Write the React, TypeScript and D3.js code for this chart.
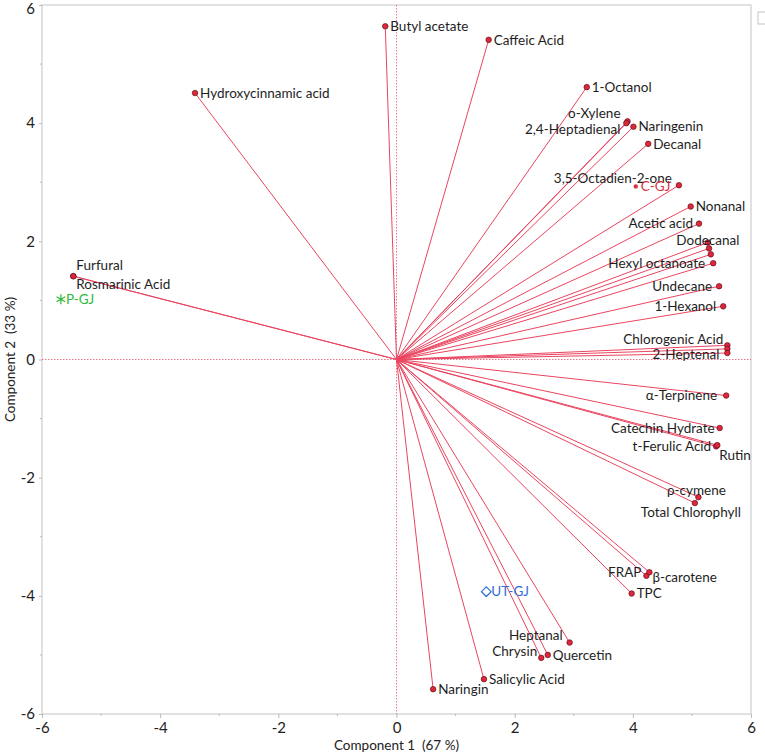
import * as React from 'react';
import * as d3 from 'd3';

// variable loadings (Component 1, Component 2)
const loadingNames = [
  'Butyl acetate', 'Caffeic Acid', 'Hydroxycinnamic acid', '1-Octanol', 'o-Xylene',
  '2,4-Heptadienal', 'Naringenin', 'Decanal', '3,5-Octadien-2-one', 'Nonanal',
  'Acetic acid', 'Dodecanal', '', '', 'Hexyl octanoate', 'Undecane', '1-Hexanol',
  'Chlorogenic Acid', '', '2-Heptenal', 'α-Terpinene', 'Catechin Hydrate',
  't-Ferulic Acid', 'Rutin', 'ρ-cymene', 'Total Chlorophyll', 'FRAP', 'β-carotene',
  'TPC', 'Heptanal', 'Quercetin', 'Chrysin', 'Salicylic Acid', 'Naringin',
  'Furfural', 'Rosmarinic Acid',
];
const loadingX = [
  -0.19, 1.56, -3.41, 3.22, 3.91, 3.89, 4.01, 4.26, 4.78, 4.98,
  5.12, 5.27, 5.29, 5.32, 5.36, 5.46, 5.53, 5.6, 5.6, 5.6,
  5.58, 5.47, 5.41, 5.43, 5.11, 5.05, 4.23, 4.28, 3.98, 2.93,
  2.56, 2.45, 1.48, 0.62, -5.47, -5.47,
];
const loadingY = [
  5.64, 5.41, 4.51, 4.61, 4.03, 4.0, 3.94, 3.65, 2.95, 2.59,
  2.3, 1.98, 1.88, 1.78, 1.63, 1.24, 0.9, 0.24, 0.18, 0.11,
  -0.61, -1.16, -1.47, -1.45, -2.33, -2.43, -3.66, -3.6, -3.96, -4.79,
  -5.0, -5.05, -5.41, -5.58, 1.41, 1.41,
];

// sample scores
const sampleNames = ['C-GJ', 'UT-GJ', 'P-GJ'];
const sampleX = [4.05, 1.52, -5.68];
const sampleY = [2.93, -3.93, 1.02];

const axisTicks = [-6, -4, -2, 0, 2, 4, 6];
const minorTicks = [-5, -3, -1, 1, 3, 5];

// label placement: [anchor, dx, dy]
const placement: Record<string, [string, number, number]> = {
  'o-Xylene': ['end', -7, -8],
  '2,4-Heptadienal': ['end', -6, 6],
  '3,5-Octadien-2-one': ['end', -7, -7],
  'Acetic acid': ['end', -6, 0],
  Dodecanal: ['middle', 0, -2],
  'Hexyl octanoate': ['end', -8, 0],
  Undecane: ['end', -7, 0],
  '1-Hexanol': ['end', -7, 0],
  'Chlorogenic Acid': ['end', -4, -6],
  '2-Heptenal': ['end', -8, 1],
  'α-Terpinene': ['end', -9, 0],
  'Catechin Hydrate': ['end', -5, 0],
  't-Ferulic Acid': ['end', -5, 0],
  Rutin: ['start', 2, 10],
  'ρ-cymene': ['middle', -2, -7],
  'Total Chlorophyll': ['middle', -4, 9],
  FRAP: ['end', -5, -3],
  'β-carotene': ['start', 3, 5],
  Heptanal: ['end', -7, -7],
  Chrysin: ['end', -4, -7],
  Furfural: ['start', 3, -11],
  'Rosmarinic Acid': ['start', 3, 8],
};

const sampleColors = ['#d8323f', '#2f6fd6', '#2fb83a'];
const rayColor = '#ea4560';
const font = 'Lato, "Open Sans", sans-serif';

export default function App() {
  const width = 765;
  const height = 756;
  const x = d3.scaleLinear().domain([-6, 6]).range([42, 751]);
  const y = d3.scaleLinear().domain([-6, 6]).range([714, 5]);
  const xAxisRef = React.useRef<SVGGElement>(null);
  const yAxisRef = React.useRef<SVGGElement>(null);

  React.useEffect(() => {
    const style = (g: any) => {
      g.select('.domain').remove();
      g.selectAll('line').attr('stroke', '#b8b8b8');
      g.selectAll('text').attr('fill', '#222').style('font-family', font).style('font-size', '15px');
    };
    const fmt = (d: any) => String(d);
    const xg = d3.select(xAxisRef.current);
    xg.selectAll('*').remove();
    xg.call(d3.axisBottom(x).tickValues(axisTicks).tickSize(4).tickPadding(4).tickFormat(fmt) as any);
    xg.append('g').selectAll('line').data(minorTicks).join('line')
      .attr('x1', (d) => x(d)).attr('x2', (d) => x(d)).attr('y1', 0).attr('y2', 2);
    style(xg);
    const yg = d3.select(yAxisRef.current);
    yg.selectAll('*').remove();
    yg.call(d3.axisLeft(y).tickValues(axisTicks).tickSize(3).tickPadding(4).tickFormat(fmt) as any);
    yg.append('g').selectAll('line').data(minorTicks).join('line')
      .attr('y1', (d) => y(d)).attr('y2', (d) => y(d)).attr('x1', 0).attr('x2', -2);
    style(yg);
    // keep the top label inside the page
    yg.selectAll('.tick text').filter((d: any) => d === 6).attr('dy', '0.55em');
  });

  return (
    <svg width={width} height={height} style={{ position: 'absolute', left: 0, top: 0, background: '#fff' }}>
      <rect x={x(-6)} y={y(6)} width={x(6) - x(-6)} height={y(-6) - y(6)} fill="none" stroke="#c4c4c4" />
      <rect x={758} y={12} width={10} height={12} fill="none" stroke="#c4c4c4" />
      <g ref={xAxisRef} transform={`translate(0,${y(-6)})`} />
      <g ref={yAxisRef} transform={`translate(${x(-6)},0)`} />

      {/* origin reference lines */}
      <line x1={x(0)} x2={x(0)} y1={y(6)} y2={y(-6)} stroke="#e8758a" strokeDasharray="1.5,1.5" />
      <line x1={x(-6)} x2={x(6)} y1={y(0)} y2={y(0)} stroke="#e8758a" strokeDasharray="1.5,1.5" />

      {loadingX.map((lx, i) => (
        <line key={'r' + i} x1={x(0)} y1={y(0)} x2={x(lx)} y2={y(loadingY[i])} stroke={rayColor} strokeWidth={1} />
      ))}
      {loadingX.map((lx, i) => (
        <circle key={'p' + i} cx={x(lx)} cy={y(loadingY[i])} r={2.8} fill="#e0263c" stroke="#4a0c12" strokeWidth={0.6} />
      ))}
      {loadingNames.map((name, i) => {
        if (!name) return null;
        const [anchor, dx, dy] = placement[name] ?? ['start', 5, 0];
        return (
          <text key={'t' + i} x={x(loadingX[i]) + dx} y={y(loadingY[i]) + dy} dy="0.35em"
            textAnchor={anchor} fontFamily={font} fontSize={13.5} fill="#1e1e1e">
            {name}
          </text>
        );
      })}

      {/* sample scores */}
      <circle cx={x(sampleX[0])} cy={y(sampleY[0])} r={2.2} fill={sampleColors[0]} />
      <path d={d3.symbol(d3.symbolDiamond2, 60)() ?? ''} transform={`translate(${x(sampleX[1])},${y(sampleY[1])})`}
        fill="none" stroke={sampleColors[1]} strokeWidth={1.2} />
      <path d={d3.symbol(d3.symbolAsterisk, 70)() ?? ''} transform={`translate(${x(sampleX[2])},${y(sampleY[2])})`}
        fill="none" stroke={sampleColors[2]} strokeWidth={1.2} />
      {sampleNames.map((name, i) => (
        <text key={'s' + i} x={x(sampleX[i]) + 5} y={y(sampleY[i])} dy="0.35em" fontFamily={font}
          fontSize={13.5} fill={sampleColors[i]}>
          {name}
        </text>
      ))}

      <text x={x(0)} y={745} dy="0.35em" textAnchor="middle" fontFamily={font} fontSize={13.5} fill="#222"
        style={{ whiteSpace: 'pre' }}>
        {'Component 1  (67 %)'}
      </text>
      <text transform={`translate(10,${y(0)}) rotate(-90)`} dy="0.35em" textAnchor="middle" fontFamily={font}
        fontSize={13.5} fill="#222" style={{ whiteSpace: 'pre' }}>
        {'Component 2  (33 %)'}
      </text>
    </svg>
  );
}
